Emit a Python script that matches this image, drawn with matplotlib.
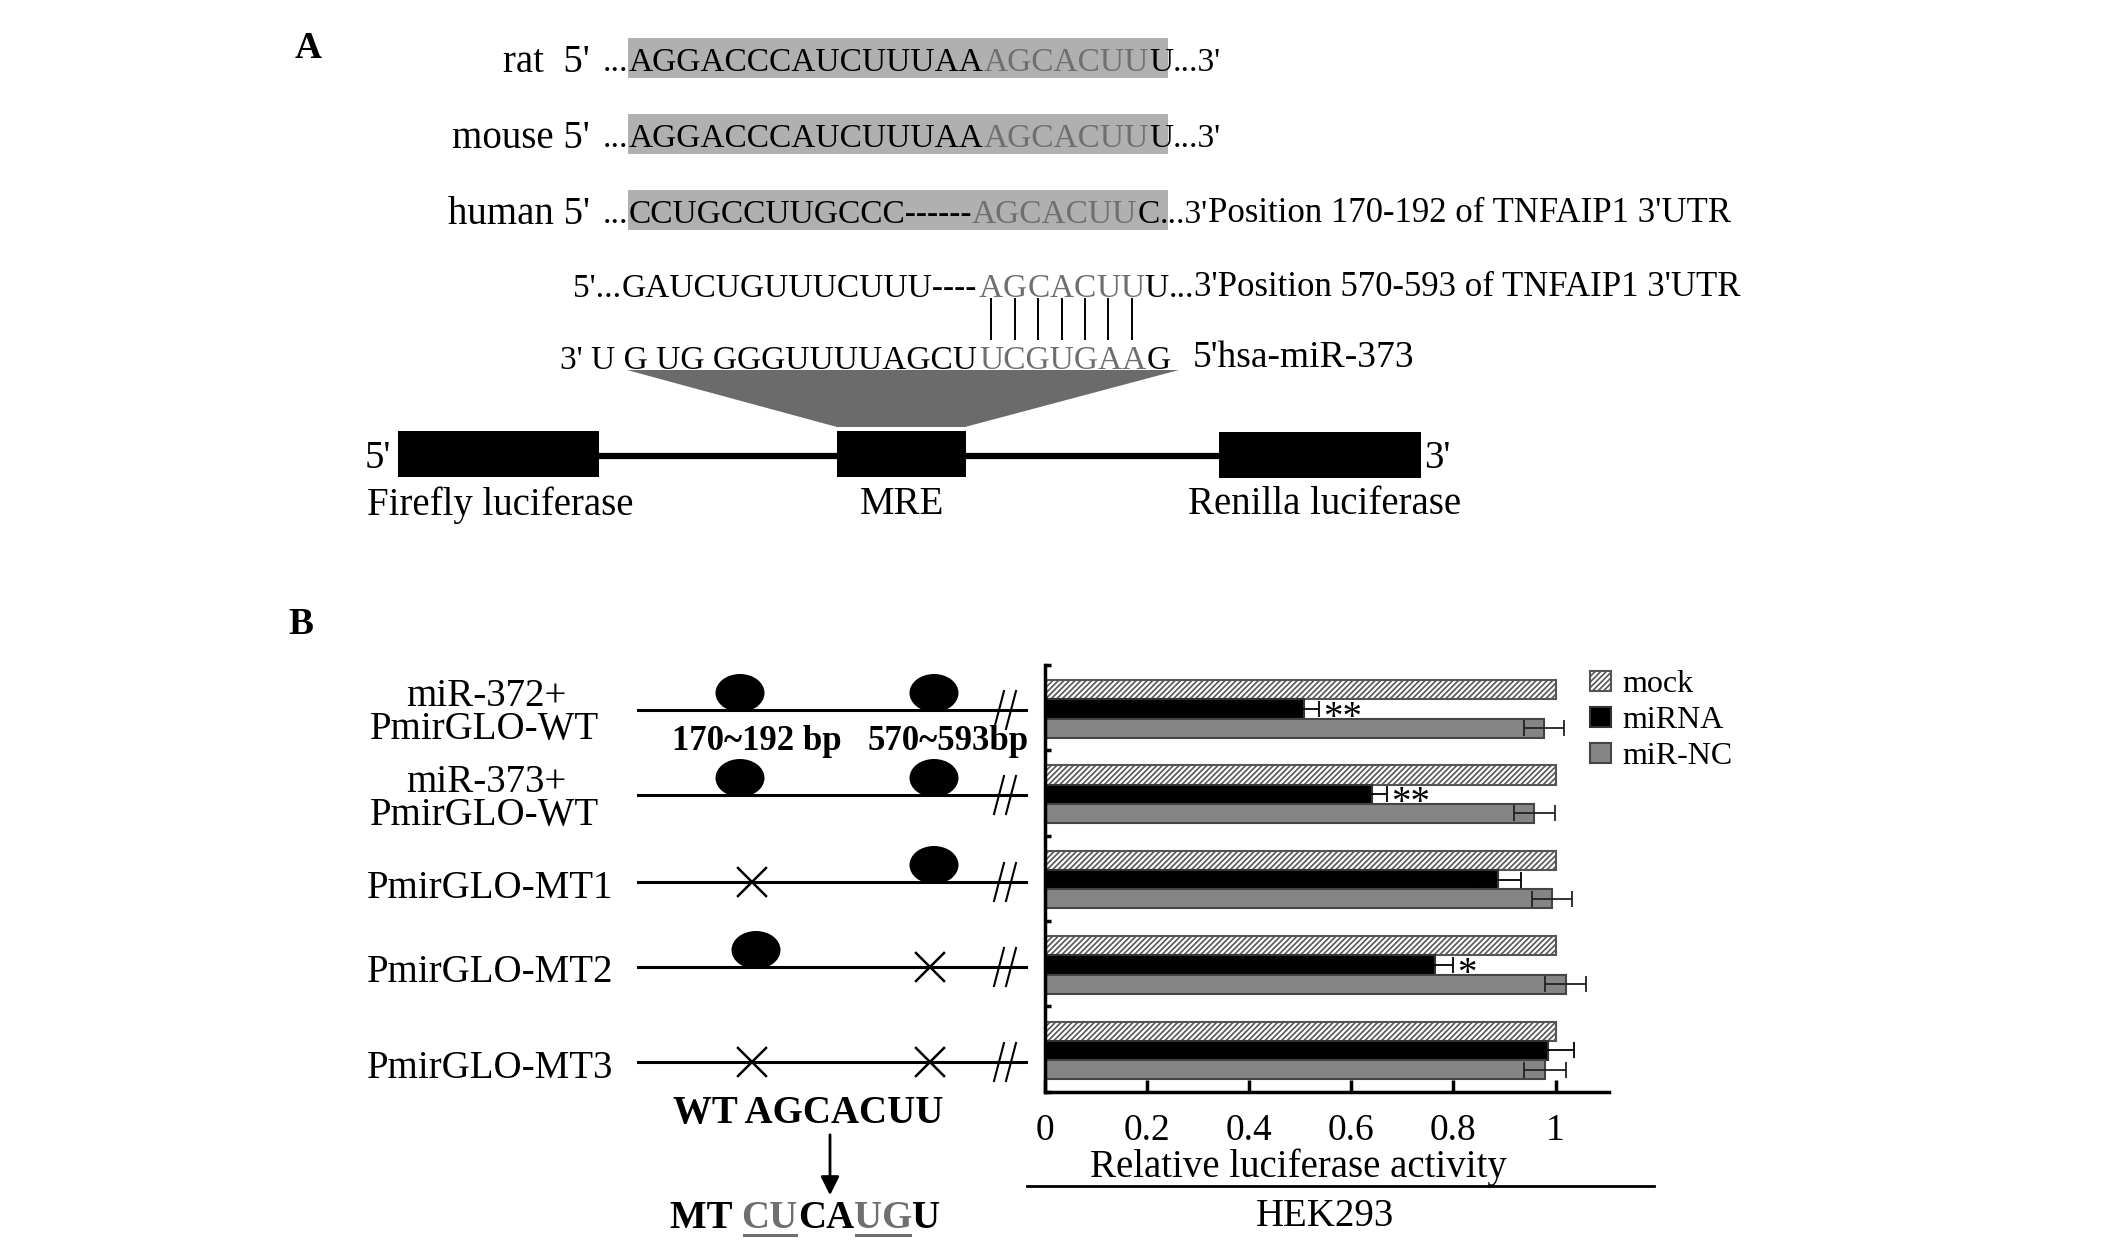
import numpy as np
import matplotlib
matplotlib.use("Agg")
import matplotlib.pyplot as plt
from matplotlib.patches import Rectangle, Ellipse, Polygon

plt.rcParams['font.family'] = ['Liberation Serif', 'DejaVu Serif']
plt.rcParams['hatch.linewidth'] = 1.2

# ---- data ----
# panel A: aligned 3'UTR sequences
species = ["rat  5'", "mouse 5'", "human 5'"]
seq_head = ["AGGACCCAUCUUUAA", "AGGACCCAUCUUUAA", "CCUGCCUUGCCC------"]
seq_seed = ["AGCACUU", "AGCACUU", "AGCACUU"]
seq_tail = ["U", "U", "C"]
seq_note = ["", "", "Position 170-192 of TNFAIP1 3'UTR"]
site2_head = "GAUCUGUUUCUUU----"
site2_seed = "AGCACUU"
site2_note = "Position 570-593 of TNFAIP1 3'UTR"
mir_head = "3' U G UG GGGUUUUAGCU"
mir_seed = "UCGUGAA"
mir_tail = "G"
mir_name = "5'hsa-miR-373"

# panel B: constructs
construct_top = ["miR-372+", "miR-373+", "", "", ""]
construct_name = ["PmirGLO-WT", "PmirGLO-WT", "PmirGLO-MT1", "PmirGLO-MT2", "PmirGLO-MT3"]
site1 = ["o", "o", "x", "o", "x"]
site2 = ["o", "o", "o", "x", "x"]

# relative luciferase activity (HEK293)
mock = [1.0, 1.0, 1.0, 1.0, 1.0]
mirna = [0.508, 0.640, 0.887, 0.764, 0.986]
mirna_err = [0.028, 0.031, 0.045, 0.036, 0.050]
mirnc = [0.977, 0.958, 0.993, 1.020, 0.979]
mirnc_err = [0.039, 0.040, 0.040, 0.040, 0.041]
stars = ["**", "**", "", "*", ""]
xticks = [0, 0.2, 0.4, 0.6, 0.8, 1.0]
xtick_labels = ["0", "0.2", "0.4", "0.6", "0.8", "1"]

W, H = 2126, 1247
GRAY_TXT = '#6f6f6f'
fig = plt.figure(figsize=(W / 100, H / 100), dpi=100)
ax = fig.add_axes([0, 0, 1, 1])
ax.set_xlim(0, W)
ax.set_ylim(H, 0)
ax.axis('off')


def chain(x, y, pieces, size=24, weight='normal'):
    # pieces: (text, color[, size]) placed one after another
    arts = []
    s0 = pieces[0]
    t = ax.text(x, y, s0[0], color=s0[1], fontsize=s0[2] if len(s0) > 2 else size,
                weight=weight, ha='left', va='center')
    arts.append(t)
    for p in pieces[1:]:
        t = ax.annotate(p[0], xy=(1, 0), xycoords=t, color=p[1],
                        fontsize=p[2] if len(p) > 2 else size, weight=weight,
                        ha='left', va='bottom')
        arts.append(t)
    return arts


# ---------------- panel A ----------------
ax.text(308, 49, "A", fontsize=27, weight='bold', ha='center', va='center')

box_tops = [38, 114, 190]
for i in range(3):
    top = box_tops[i]
    ax.add_patch(Rectangle((628, top), 540, 40, color='#b0b0b0', lw=0))
    yc = top + 25
    ax.text(590, yc, species[i], fontsize=28, ha='right', va='center')
    pieces = [("...", 'black'), (seq_head[i], 'black'), (seq_seed[i], GRAY_TXT),
              (seq_tail[i], 'black'), ("...3'", 'black')]
    if seq_note[i]:
        pieces.append((seq_note[i], 'black', 25))
    chain(603, yc, pieces)

# second site + miRNA pairing
ax.text(621, 289, "5'...", fontsize=24, ha='right', va='center')
ax.text(977, 289, site2_head, fontsize=24, ha='right', va='center')
seed_pieces = [(c, GRAY_TXT) for c in site2_seed]
seed_arts = chain(979, 289, seed_pieces + [("U", 'black'), ("...", 'black'),
                                           ("3'" + site2_note, 'black', 25)])

ax.text(977, 361, mir_head, fontsize=24, ha='right', va='center')
chain(979, 361, [(mir_seed, GRAY_TXT), (mir_tail, 'black')])
ax.text(1193, 358, mir_name, fontsize=27, ha='left', va='center')

# trapezoid and reporter construct
ax.add_patch(Polygon([(627, 370), (1179, 370), (965, 427), (837, 427)],
                     closed=True, color='#6b6b6b', lw=0))
ax.plot([599, 1219], [456, 456], color='black', lw=4.5, solid_capstyle='butt')
ax.add_patch(Rectangle((398, 431), 201, 46, color='black', lw=0))
ax.add_patch(Rectangle((837, 431), 129, 46, color='black', lw=0))
ax.add_patch(Rectangle((1219, 432), 202, 46, color='black', lw=0))
ax.text(378, 458, "5'", fontsize=28, ha='center', va='center')
ax.text(1437, 458, "3'", fontsize=28, ha='center', va='center')
ax.text(500, 505, "Firefly luciferase", fontsize=28, ha='center', va='center')
ax.text(902, 505, "MRE", fontsize=28, ha='center', va='center')
ax.text(1325, 505, "Renilla luciferase", fontsize=28, ha='center', va='center')

# ---------------- panel B schematic ----------------
ax.text(301, 625, "B", fontsize=27, weight='bold', ha='center', va='center')

row_y = [710, 795, 882, 967, 1062]
for i in range(5):
    yl = row_y[i]
    ax.plot([638, 1026], [yl, yl], color='black', lw=2.2)
    for xx in (999, 1011):
        ax.plot([xx - 5, xx + 5], [yl + 19, yl - 19], color='black', lw=1.5)
    if construct_top[i]:
        ax.text(486, yl - 13, construct_top[i], fontsize=28, ha='center', va='center')
        ax.text(484, yl + 20, construct_name[i], fontsize=28, ha='center', va='center')
    else:
        ax.text(490, yl + 6, construct_name[i], fontsize=28, ha='center', va='center')
    for kind, xo, xx in ((site1[i], 740, 752), (site2[i], 934, 930)):
        if kind == "o":
            if i == 3:
                xo = 756
            ax.add_patch(Ellipse((xo, yl - 17), 49, 38, color='black', lw=0))
        else:
            ax.plot([xx - 14, xx + 14], [yl - 14, yl + 14], color='black', lw=1.8)
            ax.plot([xx - 14, xx + 14], [yl + 14, yl - 14], color='black', lw=1.8)

ax.text(757, 741, "170~192 bp", fontsize=25, weight='bold', ha='center', va='center')
ax.text(948, 741, "570~593bp", fontsize=25, weight='bold', ha='center', va='center')

ax.text(808, 1114, "WT AGCACUU", fontsize=28, weight='bold', ha='center', va='center')
ax.annotate('', xy=(830, 1198), xytext=(830, 1132),
            arrowprops=dict(arrowstyle='-|>', color='black', lw=2, mutation_scale=28))
mt_arts = chain(670, 1218, [("MT ", 'black'), ("CU", GRAY_TXT), ("CA", 'black'),
                            ("UG", GRAY_TXT), ("U", 'black')], size=28, weight='bold')

# ---------------- panel B bar chart ----------------
bx = fig.add_axes([1044.7 / W, 1 - 1091.7 / H, (1608.7 - 1044.7) / W, (1091.7 - 665) / H])
y = np.arange(len(mock))
bx.barh(y + 0.29, mock, height=0.225, color='white', edgecolor='#555555',
        hatch='//////', lw=1.5, label='mock')
bx.barh(y + 0.515, mirna, height=0.225, color='black', edgecolor='#333333',
        lw=1.5, label='miRNA')
bx.barh(y + 0.74, mirnc, height=0.225, color='#858585', edgecolor='#444444',
        lw=1.5, label='miR-NC')
bx.errorbar(mirna, y + 0.515, xerr=mirna_err, fmt='none', ecolor='black',
            elinewidth=1.3, capsize=6, capthick=1.3)
bx.errorbar(mirnc, y + 0.74, xerr=mirnc_err, fmt='none', ecolor='#222222',
            elinewidth=1.3, capsize=6, capthick=1.3)
for i in range(len(stars)):
    if stars[i]:
        bx.text(mirna[i] + mirna_err[i] + 0.008, y[i] + 0.515 + 0.11, stars[i],
                fontsize=28, ha='left', va='center')

bx.set_xlim(0, 1.104)
bx.set_ylim(5, 0)
bx.set_xticks(xticks)
bx.set_xticklabels(xtick_labels)
bx.set_yticks(np.arange(6))
bx.set_yticklabels([])
bx.tick_params(axis='x', direction='in', length=9, width=2.5, labelsize=27, pad=16)
bx.tick_params(axis='y', direction='in', length=4, width=2.5)
for s in ('top', 'right'):
    bx.spines[s].set_visible(False)
for s in ('left', 'bottom'):
    bx.spines[s].set_linewidth(2.5)
bx.legend(loc='upper left', bbox_to_anchor=(1590 / W, 1 - 670 / H),
          bbox_transform=fig.transFigure, frameon=False, fontsize=23,
          handlelength=0.65, handleheight=0.6, handletextpad=0.35,
          labelspacing=0.22, borderpad=0, borderaxespad=0)

ax.text(1298, 1167, "Relative luciferase activity", fontsize=28, ha='center', va='center')
ax.plot([1027, 1654], [1186, 1186], color='black', lw=2)
ax.text(1325, 1217, "HEK293", fontsize=28, ha='center', va='center')

# pairing lines and underlines from the rendered letters
fig.canvas.draw()
r = fig.canvas.get_renderer()
for t in seed_arts[:len(site2_seed)]:
    bb = t.get_window_extent(r)
    xc = (bb.x0 + bb.x1) / 2
    ax.plot([xc, xc], [299, 339], color='black', lw=1.4)
for t in (mt_arts[1], mt_arts[3]):
    bb = t.get_window_extent(r)
    ax.plot([bb.x0 + 2, bb.x1 - 2], [1235, 1235], color=GRAY_TXT, lw=2.2)

fig.savefig("out.png", dpi=100)
